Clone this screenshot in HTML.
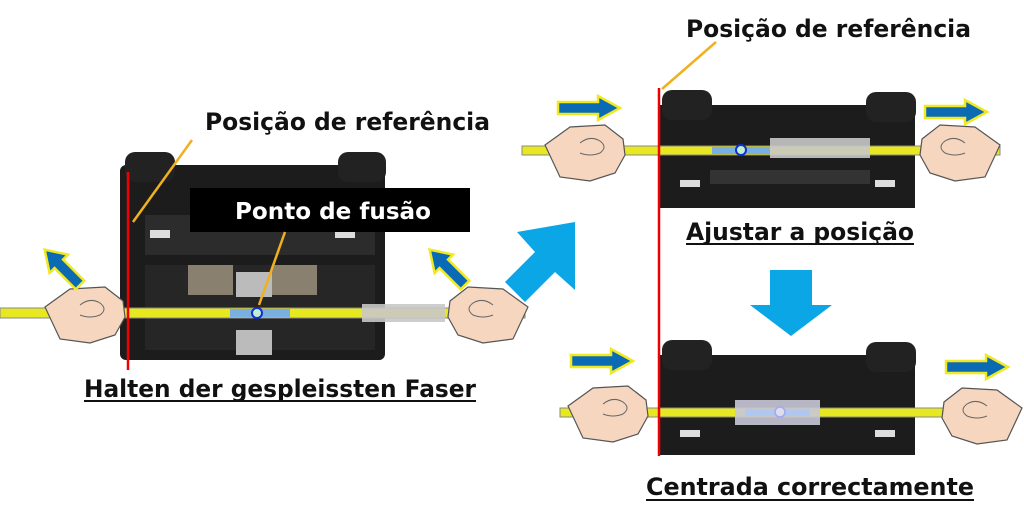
<!DOCTYPE html>
<html><head><meta charset="utf-8"><style>html,body{margin:0;padding:0;background:#fff}svg{display:block}</style></head><body>
<svg width="1024" height="531" viewBox="0 0 1024 531" xmlns="http://www.w3.org/2000/svg" font-family="DejaVu Sans, Liberation Sans, sans-serif" font-weight="bold">
<defs>
<g id="hand">
<path d="M0,20 L25,2 L60,0 L78,14 L80,30 L70,48 L45,56 L15,52 Z" fill="#f6d6bf" stroke="#555" stroke-width="1.2"/>
<path d="M35,18 q10,-8 20,-2 q8,6 0,12 q-10,4 -20,0" fill="none" stroke="#666" stroke-width="1"/>
</g>
<g id="arrR">
<polygon points="0,6 40,6 40,0 62,12 40,24 40,18 0,18" fill="#0a6ab4" stroke="#f0e820" stroke-width="2.5"/>
</g>
</defs>

<!-- LEFT MACHINE -->
<rect x="120" y="165" width="265" height="195" rx="6" fill="#1c1c1c"/>
<rect x="125" y="152" width="50" height="30" rx="10" fill="#222"/>
<rect x="338" y="152" width="48" height="30" rx="10" fill="#222"/>
<rect x="145" y="215" width="230" height="40" fill="#2c2c2c"/>
<rect x="145" y="265" width="230" height="85" fill="#262626"/>
<rect x="150" y="230" width="20" height="8" fill="#ddd"/>
<rect x="335" y="230" width="20" height="8" fill="#ddd"/>
<rect x="188" y="265" width="45" height="30" fill="#8a8070"/>
<rect x="272" y="265" width="45" height="30" fill="#8a8070"/>
<rect x="236" y="272" width="36" height="25" fill="#bbb"/>
<rect x="236" y="330" width="36" height="25" fill="#bbb"/>
<rect x="0" y="308" width="525" height="10" fill="#e8e820" stroke="#888" stroke-width="1"/>
<rect x="230" y="309" width="60" height="8" fill="#7ab0e0"/>
<rect x="362" y="304" width="83" height="18" fill="#c8c8c8" opacity="0.9"/>
<circle cx="257" cy="313" r="5" fill="#bff0d0" stroke="#1030d0" stroke-width="2"/>
<use href="#hand" x="45" y="287"/>
<g transform="translate(528,287) scale(-1,1)"><use href="#hand"/></g>
<g transform="translate(80,285) rotate(-135)"><polygon points="0,-6 30,-6 30,-13 50,0 30,13 30,6 0,6" fill="#0a6ab4" stroke="#f0e820" stroke-width="2.5"/></g>
<g transform="translate(465,285) rotate(-135)"><polygon points="0,-6 30,-6 30,-13 50,0 30,13 30,6 0,6" fill="#0a6ab4" stroke="#f0e820" stroke-width="2.5"/></g>
<line x1="128" y1="172" x2="128" y2="370" stroke="#e00" stroke-width="2.5"/>
<line x1="192" y1="140" x2="133" y2="222" stroke="#f0b020" stroke-width="2.5"/>
<rect x="190" y="188" width="280" height="44" fill="#000"/>
<text x="235" y="219" fill="#fff" font-size="23" textLength="196" lengthAdjust="spacingAndGlyphs">Ponto de fusão</text>
<line x1="285" y1="232" x2="259" y2="305" stroke="#f0b020" stroke-width="2.5"/>
<text x="205" y="130" font-size="24" fill="#111" textLength="285" lengthAdjust="spacingAndGlyphs">Posição de referência</text>
<text x="84" y="397" font-size="24" fill="#111" textLength="392" lengthAdjust="spacingAndGlyphs">Halten der gespleissten Faser</text>
<rect x="84" y="400" width="392" height="2" fill="#111"/>

<polygon points="575,222 575,290 555,272 525,302 505,282 535,252 517,232" fill="#0aa6e6"/>

<!-- TOP RIGHT MACHINE -->
<rect x="660" y="105" width="255" height="103" fill="#1c1c1c"/>
<rect x="662" y="90" width="50" height="30" rx="10" fill="#222"/>
<rect x="866" y="92" width="50" height="30" rx="10" fill="#222"/>
<rect x="710" y="170" width="160" height="14" fill="#333"/>
<rect x="680" y="180" width="20" height="7" fill="#ddd"/>
<rect x="875" y="180" width="20" height="7" fill="#ddd"/>
<rect x="522" y="146" width="478" height="9" fill="#e8e820" stroke="#888" stroke-width="1"/>
<rect x="712" y="147" width="58" height="7" fill="#7ab0e0"/>
<rect x="770" y="138" width="100" height="20" fill="#c8c8c8" opacity="0.9"/>
<circle cx="741" cy="150" r="5" fill="#bff0d0" stroke="#1030d0" stroke-width="2"/>
<use href="#hand" x="545" y="125"/>
<g transform="translate(1000,125) scale(-1,1)"><use href="#hand"/></g>
<use href="#arrR" x="558" y="96"/>
<use href="#arrR" x="925" y="100"/>
<text x="686" y="240" font-size="24" fill="#111" textLength="228" lengthAdjust="spacingAndGlyphs">Ajustar a posição</text>
<rect x="686" y="243" width="228" height="2" fill="#111"/>
<text x="686" y="37" font-size="24" fill="#111" textLength="285" lengthAdjust="spacingAndGlyphs">Posição de referência</text>
<line x1="716" y1="42" x2="662" y2="89" stroke="#f0b020" stroke-width="2.5"/>

<polygon points="770,270 812,270 812,305 832,305 791,336 750,305 770,305" fill="#0aa6e6"/>

<!-- BOTTOM MACHINE -->
<rect x="660" y="355" width="255" height="100" fill="#1c1c1c"/>
<rect x="662" y="340" width="50" height="30" rx="10" fill="#222"/>
<rect x="866" y="342" width="50" height="30" rx="10" fill="#222"/>
<rect x="680" y="430" width="20" height="7" fill="#ddd"/>
<rect x="875" y="430" width="20" height="7" fill="#ddd"/>
<rect x="560" y="408" width="440" height="9" fill="#e8e820" stroke="#888" stroke-width="1"/>
<rect x="735" y="400" width="85" height="25" fill="#c8c8d8" opacity="0.9"/>
<rect x="745" y="409" width="65" height="7" fill="#b0c8f0"/>
<circle cx="780" cy="412" r="5" fill="#dde" stroke="#a0a8f0" stroke-width="1.5"/>
<use href="#hand" x="568" y="386"/>
<g transform="translate(1022,388) scale(-1,1)"><use href="#hand"/></g>
<use href="#arrR" x="571" y="349"/>
<use href="#arrR" x="946" y="355"/>
<line x1="659" y1="88" x2="659" y2="456" stroke="#e00" stroke-width="2.5"/>
<text x="646" y="495" font-size="24" fill="#111" textLength="328" lengthAdjust="spacingAndGlyphs">Centrada correctamente</text>
<rect x="646" y="499" width="328" height="2" fill="#111"/>
</svg>
</body></html>
